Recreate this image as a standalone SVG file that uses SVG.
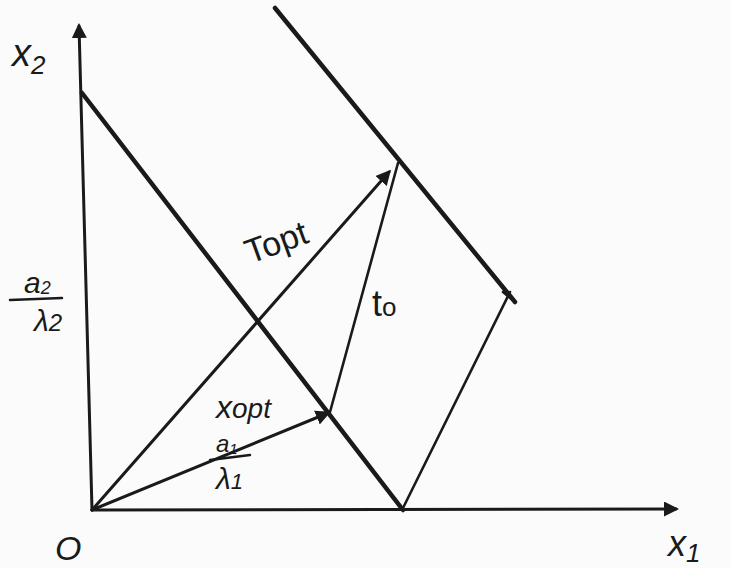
<svg xmlns="http://www.w3.org/2000/svg" width="731" height="568" viewBox="0 0 731 568">
<defs>
<style>
.ln{stroke:#1a1a1a;fill:none;stroke-linecap:round}
.thick{stroke-width:4.5}
.ax{stroke-width:3}
.thin{stroke-width:2.6}
.lbl{font-family:"Liberation Sans",Arial,sans-serif;fill:#1a1a1a}
</style>
<marker id="ah" viewBox="0 0 10 10" refX="8" refY="5" markerWidth="5" markerHeight="5" orient="auto" markerUnits="strokeWidth">
<path d="M0,0 L10,5 L0,10 z" fill="#1a1a1a"/>
</marker>
</defs>
<rect width="731" height="568" fill="#fbfbfb"/>
<g id="axes">
<line class="ln ax" x1="92" y1="510" x2="79" y2="26" marker-end="url(#ah)"/>
<line class="ln ax" x1="92" y1="510" x2="676" y2="509" marker-end="url(#ah)"/>
</g>
<g id="connectors">
<line class="ln thick" x1="82" y1="93" x2="403" y2="510"/>
<line class="ln thick" x1="275" y1="8" x2="515" y2="302"/>
<line class="ln thin" x1="403" y1="508" x2="510" y2="292"/>
<line class="ln ax" x1="92" y1="510" x2="389" y2="172" marker-end="url(#ah)"/>
<line class="ln thin" x1="398" y1="163" x2="330" y2="412"/>
<line class="ln ax" x1="92" y1="510" x2="328" y2="413" marker-end="url(#ah)"/>
<line class="ln thin" x1="503" y1="292" x2="515" y2="302"/>
</g>
<g id="labels">
<text class="lbl" x="12" y="66" font-size="38" font-style="italic">x<tspan font-size="26" dy="8">2</tspan></text>
<g id="a2l2">
<text class="lbl" x="24" y="293" font-size="30" font-style="italic">a<tspan font-size="18" dy="1">2</tspan></text>
<line class="ln" stroke-width="2.5" x1="10" y1="300" x2="62" y2="298"/>
<text class="lbl" x="34" y="331" font-size="30" font-style="italic">λ<tspan font-size="24">2</tspan></text>
</g>
<text class="lbl" x="250" y="264" font-size="34" transform="rotate(-20 250 264)">Topt</text>
<text class="lbl" x="372" y="316" font-size="36">t<tspan font-size="26">o</tspan></text>
<text class="lbl" x="216" y="418" font-size="32" font-style="italic">x<tspan font-size="28">opt</tspan></text>
<g id="a1l1">
<text class="lbl" x="216" y="452" font-size="24" font-style="italic">a<tspan font-size="15" dy="2">1</tspan></text>
<line class="ln" stroke-width="2.5" x1="210" y1="460" x2="250" y2="455"/>
<text class="lbl" x="216" y="489" font-size="30" font-style="italic">λ<tspan font-size="22">1</tspan></text>
</g>
<text class="lbl" x="55" y="560" font-size="34" font-style="italic">O</text>
<text class="lbl" x="668" y="556" font-size="36" font-style="italic">x<tspan font-size="26" dy="6">1</tspan></text>
</g>
</svg>
